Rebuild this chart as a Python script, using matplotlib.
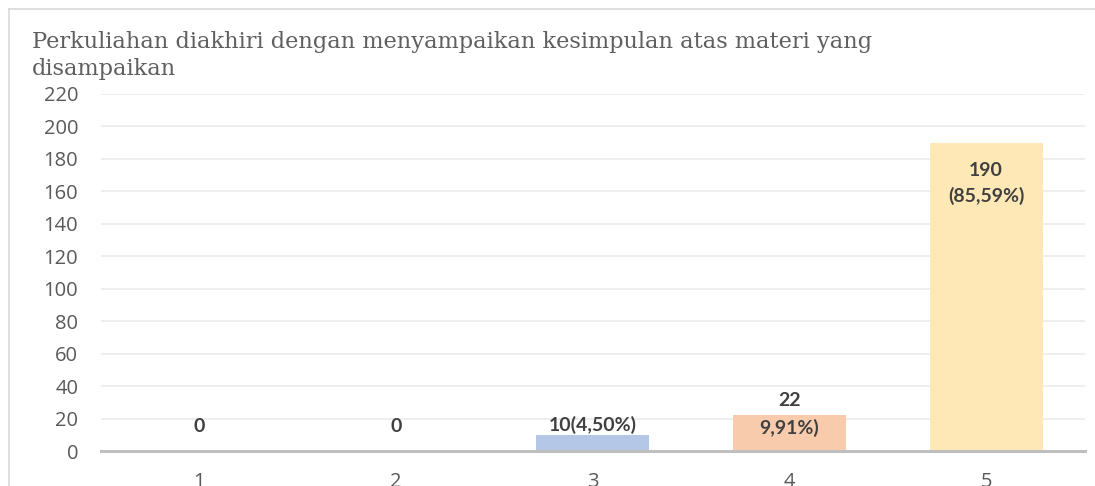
import matplotlib
matplotlib.use("Agg")
import matplotlib.pyplot as plt
from matplotlib.lines import Line2D

categories = ["1", "2", "3", "4", "5"]
values = [0, 0, 10, 22, 190]
label_lines = [["0"], ["0"], ["10(4,50%)"], ["22", "9,91%)"], ["190", "(85,59%)"]]
bar_colors = ["#B4C7E7", "#B4C7E7", "#B4C7E7", "#F8CBAD", "#FEE9B6"]
title = "Perkuliahan diakhiri dengan menyampaikan kesimpulan atas materi yang\ndisampaikan"
yticks = list(range(0, 221, 20))

W, H = 1095, 486
fig = plt.figure(figsize=(W / 100, H / 100), dpi=100)
fig.patch.set_facecolor("white")

# outer chart border (cropped on right and bottom)
fig.add_artist(Line2D([8.5 / W, 8.5 / W], [0, 1 - 9.5 / H], transform=fig.transFigure,
                      color="#D9D9D9", linewidth=1.2))
fig.add_artist(Line2D([8.5 / W, 1], [1 - 9.5 / H, 1 - 9.5 / H], transform=fig.transFigure,
                      color="#D9D9D9", linewidth=1.2))

left, right, top, bottom = 100.5, 1084.5, 94, 451
ax = fig.add_axes([left / W, (H - bottom) / H, (right - left) / W, (bottom - top) / H])
x = list(range(len(categories)))
ax.bar(x, values, width=0.575, color=bar_colors, zorder=2)
ax.set_xlim(-0.5, len(categories) - 0.5)
ax.set_ylim(0, 220)
ax.set_yticks(yticks)
ax.set_xticks(x)
ax.set_xticklabels(categories)
for s in ["left", "right", "top"]:
    ax.spines[s].set_visible(False)
ax.spines["bottom"].set_color("#BFBFBF")
ax.spines["bottom"].set_linewidth(2.2)
ax.spines["bottom"].set_zorder(3)
ax.grid(axis="y", color="#EDEDED", linewidth=1.3, zorder=0)
ax.tick_params(axis="both", length=0, labelsize=14.5, labelcolor="#595959")
ax.tick_params(axis="x", pad=15)
ax.tick_params(axis="y", pad=16)
for lab in ax.get_xticklabels() + ax.get_yticklabels():
    lab.set_fontfamily("Open Sans")

# data labels (offsets in pixels)
offsets = [[25], [25], [10], [15, -13], [-28, -53]]
for xi, v, lines, offs in zip(x, values, label_lines, offsets):
    for t, dy in zip(lines, offs):
        ax.annotate(t, xy=(xi, v), xytext=(0, dy), textcoords="offset pixels",
                    ha="center", va="center", fontsize=14, fontweight="bold",
                    color="#404040", family="Lato", zorder=4)

fig.text(32 / W, 1 - 31 / H, title, ha="left", va="top", fontsize=16.2,
         family="DejaVu Serif", color="#5f5f5f", linespacing=1.32)

fig.savefig("out.png", dpi=100)
